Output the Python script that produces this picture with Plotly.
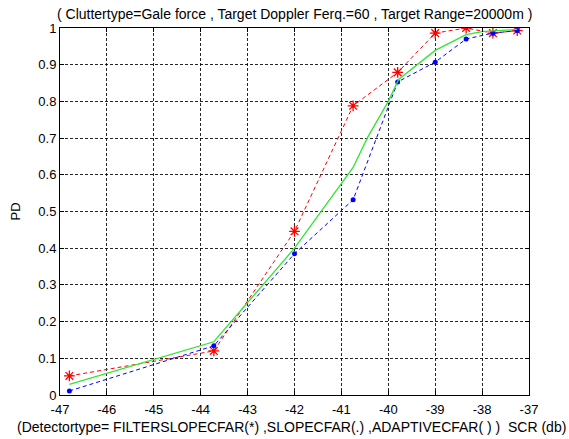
import plotly.graph_objects as go

# SCR (dB) sample points shared by the three detectors
scr = [-46.8, -43.72, -42.0, -40.75, -39.8, -39.0, -38.34, -37.77, -37.25]

# Detection probability per detector
pd_filterslope = [0.052, 0.12, 0.446, 0.788, 0.879, 0.986, 1.0, 0.986, 0.993]
pd_slope = [0.011, 0.134, 0.385, 0.532, 0.853, 0.907, 0.97, 0.986, 0.993]

# Adaptive CFAR curve (drawn without markers, finer sampling)
scr_adaptive = [-46.8, -43.72, -42.0, -41.0, -40.75, -40.45, -40.0, -39.78,
                -39.0, -38.34, -38.0, -37.25]
pd_adaptive = [0.029, 0.145, 0.40, 0.575, 0.62, 0.70, 0.80, 0.86,
               0.939, 0.982, 0.99, 0.996]

x_ticks = [-47, -46, -45, -44, -43, -42, -41, -40, -39, -38, -37]
y_ticks = [0, 0.1, 0.2, 0.3, 0.4, 0.5, 0.6, 0.7, 0.8, 0.9, 1]

title_text = "( Cluttertype=Gale force , Target Doppler Ferq.=60 , Target Range=20000m )"
xlabel_text = "(Detectortype= FILTERSLOPECFAR(*) ,SLOPECFAR(.) ,ADAPTIVECFAR( ) )  SCR (db)"
ylabel_text = "PD"

FONT = "Liberation Sans, Arial, sans-serif"

fig = go.Figure()

fig.add_trace(go.Scatter(
    x=scr, y=pd_filterslope, mode="lines+markers",
    line=dict(color="rgb(255,0,0)", width=1, dash="4px,3px"),
    marker=dict(symbol="asterisk-open", size=9,
                line=dict(color="rgb(255,0,0)", width=1.3)),
    showlegend=False,
))

fig.add_trace(go.Scatter(
    x=scr, y=pd_slope, mode="lines+markers",
    line=dict(color="rgb(0,0,255)", width=1, dash="4px,3px"),
    marker=dict(symbol="circle", size=5, color="rgb(0,0,255)"),
    showlegend=False,
))

fig.add_trace(go.Scatter(
    x=scr_adaptive, y=pd_adaptive, mode="lines",
    line=dict(color="rgb(50,228,50)", width=1.3),
    showlegend=False,
))

axis_common = dict(
    showline=True, linecolor="black", linewidth=1, mirror="ticks",
    ticks="inside", ticklen=4, tickcolor="black",
    showgrid=True, gridcolor="rgba(0,0,0,0.85)", gridwidth=1,
    griddash="3px,2px", zeroline=False,
    tickfont=dict(family=FONT, size=13, color="black"),
)

# plain hyphen-minus in the x tick labels
fig.update_xaxes(range=[-47, -37], tickvals=x_ticks,
                 ticktext=[str(v) for v in x_ticks], ticklabelstandoff=2,
                 **axis_common)
fig.update_yaxes(range=[0, 1], tickvals=y_ticks,
                 title=dict(text=ylabel_text, standoff=14,
                            font=dict(family=FONT, size=13, color="black")),
                 **axis_common)

fig.update_layout(
    width=569, height=439,
    margin=dict(l=60, r=40, t=28, b=44),
    paper_bgcolor="white", plot_bgcolor="white",
    font=dict(family=FONT, size=13, color="black"),
    annotations=[
        dict(text=title_text, xref="paper", yref="paper", x=0.5, y=1,
             xanchor="center", yanchor="bottom", yshift=4, showarrow=False,
             font=dict(family=FONT, size=14, color="black")),
        dict(text=xlabel_text, xref="paper", yref="paper", x=0.493, y=0,
             xanchor="center", yanchor="top", yshift=-22, showarrow=False,
             font=dict(family=FONT, size=14, color="black")),
    ],
)

fig.write_html("out.html")
